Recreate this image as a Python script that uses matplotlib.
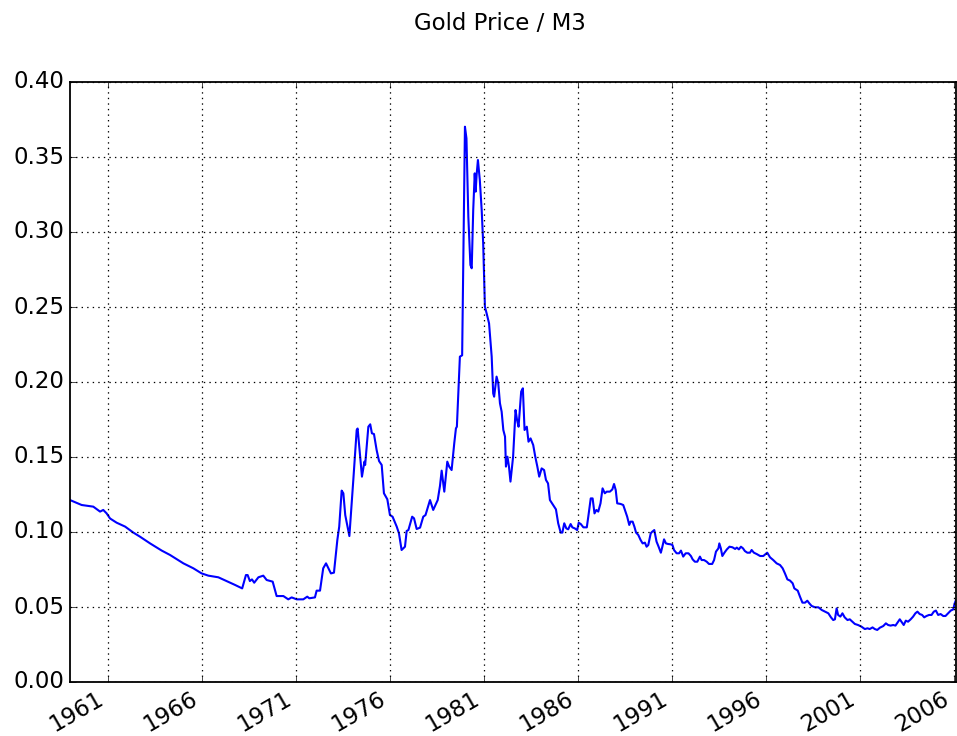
import matplotlib
matplotlib.use("Agg")
import matplotlib.pyplot as plt
import matplotlib.dates as mdates
from matplotlib.ticker import FormatStrFormatter
from datetime import datetime, timedelta

# decimal year of each reading and gold price divided by M3
years = [
    1959.0, 1959.62, 1960.24, 1960.6, 1960.77, 1960.95, 1961.13, 1961.48,
    1961.93, 1962.37, 1962.72, 1963.26, 1963.88, 1964.32, 1965.03, 1965.56,
    1966.0, 1966.36, 1966.89, 1967.33, 1967.78, 1968.16, 1968.36, 1968.45,
    1968.57, 1968.68, 1968.8, 1969.02, 1969.28, 1969.46, 1969.78, 1969.99,
    1970.35, 1970.61, 1970.79, 1971.06, 1971.41, 1971.62, 1971.73, 1972.03,
    1972.12, 1972.3, 1972.47, 1972.62, 1972.88, 1973.04, 1973.22, 1973.32,
    1973.45, 1973.54, 1973.64, 1973.86, 1974.07, 1974.25, 1974.3, 1974.53,
    1974.66, 1974.7, 1974.87, 1974.97, 1975.06, 1975.17, 1975.31, 1975.44,
    1975.58, 1975.7, 1975.88, 1976.02, 1976.16, 1976.38, 1976.5, 1976.64,
    1976.82, 1976.91, 1977.0, 1977.2, 1977.3, 1977.44, 1977.62, 1977.79,
    1977.91, 1978.02, 1978.15, 1978.32, 1978.56, 1978.68, 1978.77, 1978.91,
    1979.07, 1979.17, 1979.3, 1979.44, 1979.53, 1979.58, 1979.74, 1979.86,
    1979.92, 1980.01, 1980.09, 1980.19, 1980.3, 1980.37, 1980.45, 1980.53,
    1980.58, 1980.63, 1980.7, 1980.8, 1980.9, 1980.98, 1981.07, 1981.16,
    1981.29, 1981.43, 1981.51, 1981.56, 1981.69, 1981.78, 1981.87, 1981.96,
    1982.05, 1982.14, 1982.19, 1982.27, 1982.35, 1982.43, 1982.57, 1982.7,
    1982.78, 1982.86, 1983.0, 1983.09, 1983.18, 1983.3, 1983.39, 1983.5,
    1983.64, 1983.75, 1983.86, 1983.96, 1984.09, 1984.22, 1984.32, 1984.43,
    1984.53, 1984.7, 1984.85, 1984.97, 1985.1, 1985.19, 1985.29, 1985.4,
    1985.5, 1985.63, 1985.72, 1985.85, 1985.98, 1986.06, 1986.17, 1986.31,
    1986.49, 1986.57, 1986.7, 1986.8, 1986.9, 1987.0, 1987.1, 1987.22,
    1987.33, 1987.45, 1987.55, 1987.72, 1987.85, 1987.94, 1988.03, 1988.11,
    1988.29, 1988.43, 1988.52, 1988.64, 1988.75, 1988.82, 1988.93, 1989.02,
    1989.11, 1989.23, 1989.35, 1989.46, 1989.58, 1989.67, 1989.76, 1989.89,
    1989.97, 1990.08, 1990.2, 1990.31, 1990.43, 1990.51, 1990.6, 1990.7,
    1990.82, 1990.95, 1991.05, 1991.13, 1991.27, 1991.4, 1991.5, 1991.62,
    1991.75, 1991.9, 1992.03, 1992.12, 1992.24, 1992.37, 1992.51, 1992.6,
    1992.73, 1992.87, 1992.99, 1993.16, 1993.26, 1993.36, 1993.49, 1993.54,
    1993.62, 1993.7, 1993.81, 1993.94, 1994.08, 1994.24, 1994.38, 1994.47,
    1994.58, 1994.69, 1994.8, 1994.9, 1995.03, 1995.17, 1995.26, 1995.38,
    1995.53, 1995.71, 1995.88, 1996.0, 1996.09, 1996.24, 1996.41, 1996.59,
    1996.77, 1996.91, 1997.03, 1997.16, 1997.3, 1997.44, 1997.53, 1997.71,
    1997.83, 1997.96, 1998.1, 1998.22, 1998.33, 1998.45, 1998.63, 1998.81,
    1998.99, 1999.16, 1999.34, 1999.48, 1999.6, 1999.69, 1999.78, 1999.86,
    1999.98, 2000.09, 2000.21, 2000.36, 2000.48, 2000.62, 2000.75, 2000.92,
    2001.1, 2001.28, 2001.42, 2001.54, 2001.69, 2001.81, 2001.94, 2002.08,
    2002.26, 2002.4, 2002.52, 2002.65, 2002.79, 2002.91, 2003.14, 2003.23,
    2003.35, 2003.46, 2003.58, 2003.72, 2003.85, 2003.97, 2004.08, 2004.2,
    2004.33, 2004.44, 2004.56, 2004.7, 2004.83, 2004.95, 2005.06, 2005.18,
    2005.31, 2005.45, 2005.57, 2005.71, 2005.85, 2005.98, 2006.06, 2006.13,
]
ratio = [
    0.1213, 0.118, 0.1169, 0.1136, 0.1147, 0.1124, 0.109, 0.1062,
    0.1036, 0.0996, 0.0969, 0.0924, 0.0876, 0.0847, 0.0791, 0.0758,
    0.0724, 0.0709, 0.0698, 0.0673, 0.0647, 0.0624, 0.0713, 0.0713,
    0.0673, 0.0684, 0.0662, 0.0698, 0.0709, 0.068, 0.0669, 0.0573,
    0.0573, 0.0551, 0.0564, 0.0551, 0.0551, 0.0569, 0.0558, 0.0564,
    0.0609, 0.0609, 0.0758, 0.0791, 0.0724, 0.0729, 0.0947, 0.1036,
    0.1276, 0.1258, 0.1113, 0.0973, 0.1347, 0.168, 0.169, 0.1369,
    0.1469, 0.1447, 0.1702, 0.1718, 0.1658, 0.1653, 0.1547, 0.1473,
    0.1447, 0.1258, 0.1218, 0.1113, 0.1102, 0.1036, 0.0991, 0.088,
    0.0902, 0.1007, 0.1013, 0.1102, 0.1091, 0.102, 0.1029, 0.1102,
    0.1113, 0.1158, 0.1213, 0.1147, 0.1213, 0.1307, 0.1409, 0.1269,
    0.1469, 0.1436, 0.1413, 0.1591, 0.1691, 0.1702, 0.2169, 0.2178,
    0.2769, 0.3702, 0.3624, 0.3102, 0.278, 0.2758, 0.3147, 0.3391,
    0.3269, 0.338, 0.348, 0.3347, 0.3147, 0.2924, 0.2502, 0.2458,
    0.2391, 0.2169, 0.1924, 0.1902, 0.2036, 0.1991, 0.1858, 0.1802,
    0.168, 0.1636, 0.1436, 0.1502, 0.1436, 0.1336, 0.1502, 0.1813,
    0.1747, 0.1702, 0.1936, 0.1958, 0.168, 0.1702, 0.1602, 0.1624,
    0.158, 0.1502, 0.1436, 0.1369, 0.1424, 0.1413, 0.1347, 0.1324,
    0.1213, 0.118, 0.1151, 0.1058, 0.0996, 0.0996, 0.1058, 0.1024,
    0.1018, 0.1053, 0.1031, 0.1024, 0.1013, 0.1062, 0.1053, 0.1031,
    0.1031, 0.1102, 0.1224, 0.1224, 0.1124, 0.1147, 0.1136, 0.1191,
    0.1291, 0.1258, 0.1269, 0.1269, 0.1284, 0.132, 0.128, 0.1191,
    0.1187, 0.118, 0.1147, 0.1102, 0.1047, 0.1069, 0.1069, 0.1036,
    0.0996, 0.098, 0.0947, 0.0924, 0.0929, 0.0902, 0.0913, 0.0991,
    0.1002, 0.1013, 0.0936, 0.0902, 0.0862, 0.0902, 0.0951, 0.0924,
    0.092, 0.0918, 0.0913, 0.088, 0.0858, 0.0858, 0.0876, 0.0836,
    0.0858, 0.0858, 0.084, 0.0818, 0.0802, 0.0802, 0.0836, 0.0813,
    0.0813, 0.0802, 0.0787, 0.0787, 0.0813, 0.0869, 0.0891, 0.0924,
    0.0891, 0.084, 0.0862, 0.0884, 0.0902, 0.0898, 0.0887, 0.0896,
    0.0884, 0.0902, 0.0891, 0.0873, 0.0862, 0.0862, 0.088, 0.0862,
    0.0853, 0.084, 0.084, 0.0853, 0.0862, 0.0831, 0.0813, 0.0791,
    0.078, 0.0758, 0.0724, 0.0684, 0.0676, 0.0658, 0.0624, 0.0609,
    0.0569, 0.0529, 0.0529, 0.0542, 0.0524, 0.0507, 0.0498, 0.0498,
    0.048, 0.0469, 0.0458, 0.0431, 0.0413, 0.0418, 0.0491, 0.0447,
    0.0436, 0.0458, 0.0431, 0.0413, 0.0418, 0.0402, 0.0387, 0.038,
    0.0369, 0.0353, 0.0358, 0.0353, 0.0364, 0.0353, 0.0347, 0.0362,
    0.0373, 0.0391, 0.038, 0.0376, 0.038, 0.0376, 0.0418, 0.0402,
    0.038, 0.0409, 0.0402, 0.0418, 0.0436, 0.0458, 0.0469, 0.0453,
    0.0447, 0.0431, 0.044, 0.0447, 0.0447, 0.0469, 0.0476, 0.0447,
    0.0453, 0.044, 0.044, 0.0458, 0.0476, 0.0484, 0.0524, 0.0547,
]
tick_years = list(range(1961, 2007, 5))


def to_date(y):
    yr = int(y)
    return datetime(yr, 1, 1) + timedelta(days=(y - yr) * 365.25)


def run():
    plt.style.use("classic")
    dates = [to_date(y) for y in years]

    fig = plt.figure(figsize=(9.57, 7.36), dpi=100, facecolor="white")
    ax = fig.add_axes([70 / 957, 54 / 736, 886 / 957, 600 / 736])
    ax.plot(dates, ratio, color="#0000ff", lw=1.5)

    ax.set_xlim(dates[0], dates[-1])
    ax.set_ylim(0, 0.40)
    ax.set_yticks([i * 0.05 for i in range(9)])
    ax.yaxis.set_major_formatter(FormatStrFormatter("%.2f"))
    ax.set_xticks([datetime(y, 1, 1) for y in tick_years])
    ax.xaxis.set_major_formatter(mdates.DateFormatter("%Y"))
    for lbl in ax.get_xticklabels():
        lbl.set_rotation(30)
        lbl.set_ha("right")
    ax.tick_params(labelsize=16.5)
    ax.grid(True, color="k", ls=":", lw=0.9)
    for s in ax.spines.values():
        s.set_linewidth(1.3)

    fig.text(500 / 957, 1 - 24 / 736, "Gold Price / M3", fontsize=16.5,
             ha="center", va="center")
    fig.savefig("out.png", dpi=100, facecolor="white")


run()
